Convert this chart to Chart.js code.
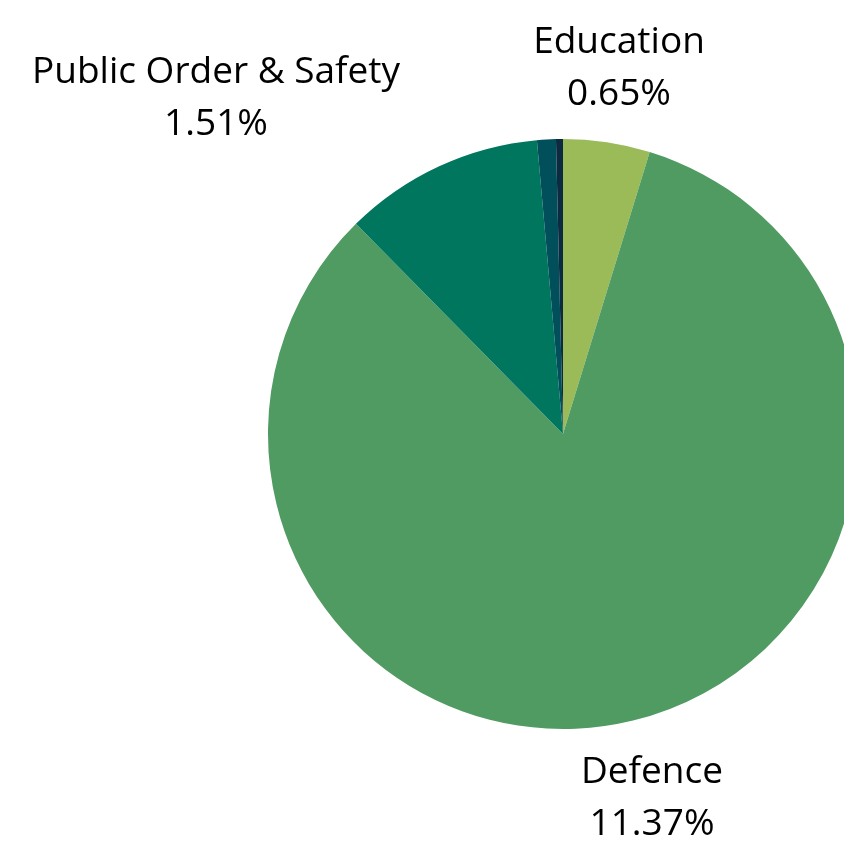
<!DOCTYPE html>
<html>
<head>
<meta charset="utf-8">
<script src="https://cdn.jsdelivr.net/npm/chart.js@4"></script>
<style>
  html, body { margin: 0; padding: 0; background: #fff; overflow: hidden; }
  .wrap { width: 844px; height: 841px; overflow: hidden; position: relative; }
  .inner { width: 900px; height: 841px; position: absolute; left: 0; top: 0; }
</style>
</head>
<body>
<div class="wrap"><div class="inner"><canvas id="pie"></canvas></div></div>
<script>
// slice shares (clockwise from 12 o'clock)
const categories = ['Health', 'Other', 'Defence', 'Public Order & Safety', 'Education'];
const shares = [4.75, 82.87, 10.97, 1.03, 0.38];
const sliceColors = ['#9bbb59', '#4f9b62', '#00765f', '#014f5b', '#0c2b40'];

// labels drawn on the picture
const labelNames = ['Education', 'Public Order & Safety', 'Defence'];
const labelValues = ['0.65%', '1.51%', '11.37%'];
const labelSpots = [[619, 42], [216, 72], [652, 772]];

const textLabels = {
    id: 'textLabels',
    afterDraw(chart) {
        const ctx = chart.ctx;
        ctx.save();
        ctx.fillStyle = '#000';
        ctx.font = '37px "Open Sans"';
        ctx.textAlign = 'center';
        ctx.textBaseline = 'middle';
        for (let i = 0; i < labelNames.length; i++) {
            const [x, y] = labelSpots[i];
            ctx.fillText(labelNames[i], x, y);
            ctx.fillText(labelValues[i], x, y + 52);
        }
        ctx.restore();
    }
};

new Chart(document.getElementById('pie'), {
    type: 'pie',
    data: {
        labels: categories,
        datasets: [{
            data: shares,
            backgroundColor: sliceColors,
            borderWidth: 0
        }]
    },
    options: {
        responsive: true,
        maintainAspectRatio: false,
        animation: false,
        layout: { padding: { left: 268, right: 42, top: 139, bottom: 112 } },
        plugins: {
            legend: { display: false },
            tooltip: { enabled: false }
        }
    },
    plugins: [textLabels]
});
</script>
</body>
</html>
